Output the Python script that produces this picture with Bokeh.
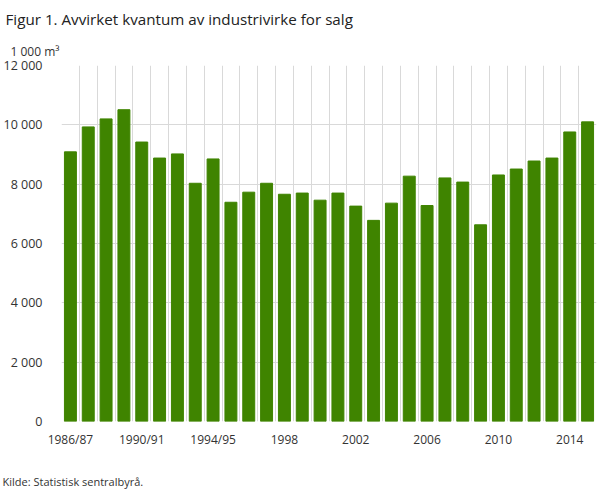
from bokeh.plotting import figure
from bokeh.models import Title, FixedTicker, Range1d, ColumnDataSource
from bokeh.embed import file_html
from bokeh.resources import INLINE

title_text = "Figur 1. Avvirket kvantum av industrivirke for salg"
unit_text = "1 000 m³"
source_text = "Kilde: Statistisk sentralbyrå."

categories = ["1986/87", "1987/88", "1988/89", "1989/90", "1990/91", "1991/92",
              "1992/93", "1993/94", "1994/95", "1995/96", "1996", "1997", "1998",
              "1999", "2000", "2001", "2002", "2003", "2004", "2005", "2006",
              "2007", "2008", "2009", "2010", "2011", "2012", "2013", "2014", "2015"]
values = [9090, 9930, 10200, 10510, 9420, 8880, 9020, 8030, 8850, 7390,
          7730, 8030, 7660, 7700, 7460, 7700, 7260, 6780, 7360, 8270,
          7280, 8210, 8070, 6630, 8310, 8510, 8780, 8880, 9760, 10100]
labeled_categories = ["1986/87", "1990/91", "1994/95", "1998", "2002", "2006", "2010", "2014"]
y_ticks = [0, 2000, 4000, 6000, 8000, 10000, 12000]
y_tick_labels = ["0", "2 000", "4 000", "6 000", "8 000", "10 000", "12 000"]

FONT = "Open Sans"
BAR = "#3f8400"
GRID = "#d9d9d9"
TXT = "#333333"

idx = list(range(len(categories)))
src = ColumnDataSource(dict(x=idx, top=values, cat=categories))

p = figure(width=609, height=489, output_backend="svg", toolbar_location=None,
           x_range=Range1d(-0.5, len(categories) - 0.5), y_range=Range1d(0, 12000),
           min_border_left=61, min_border_right=13, min_border_top=0, min_border_bottom=0)

p.vbar(x="x", top="top", width=0.67, color=BAR, source=src)

p.outline_line_color = None
p.background_fill_color = "white"
p.border_fill_color = "white"

# grids
p.xgrid.ticker = FixedTicker(ticks=[i - 0.5 for i in range(len(categories) + 1)])
p.ygrid.ticker = FixedTicker(ticks=y_ticks)
for g in (p.xgrid, p.ygrid):
    g.grid_line_color = GRID
    g.grid_line_width = 1
p.xgrid.level = "underlay"
p.ygrid.level = "underlay"

# x axis
xa = p.xaxis[0]
xa.ticker = FixedTicker(ticks=[categories.index(c) for c in labeled_categories])
xa.major_label_overrides = {categories.index(c): c for c in labeled_categories}
xa.axis_line_color = None
xa.major_tick_line_color = None
xa.minor_tick_line_color = None
xa.major_label_standoff = 3
xa.major_label_text_font = FONT
xa.major_label_text_font_size = "12px"
xa.major_label_text_color = TXT

# y axis
ya = p.yaxis[0]
ya.ticker = FixedTicker(ticks=y_ticks)
ya.major_label_overrides = {t: l for t, l in zip(y_ticks, y_tick_labels)}
ya.axis_line_color = None
ya.major_tick_line_color = None
ya.minor_tick_line_color = None
ya.major_label_standoff = 13
ya.major_label_text_font = FONT
ya.major_label_text_font_size = "12.5px"
ya.major_label_text_color = TXT

# titles
p.title.text = title_text
p.title.align = "left"
p.title.offset = -56
p.title.text_font = FONT
p.title.text_font_size = "15.2px"
p.title.text_font_style = "normal"
p.title.text_color = "#222222"
p.title.standoff = 12

unit = Title(text=unit_text, align="left", offset=-51, text_font=FONT,
             text_font_size="12px", text_font_style="normal", text_color=TXT, standoff=12)
p.add_layout(unit, "above")

spacer = Title(text=" ", align="left", text_font=FONT, text_font_size="1px",
               text_color="white", standoff=18)
p.add_layout(spacer, "below")

src_title = Title(text=source_text, align="left", offset=-59, text_font=FONT,
                  text_font_size="11px", text_font_style="normal", text_color=TXT, standoff=1)
p.add_layout(src_title, "below")

open("out.html", "w").write(file_html(p, INLINE))
